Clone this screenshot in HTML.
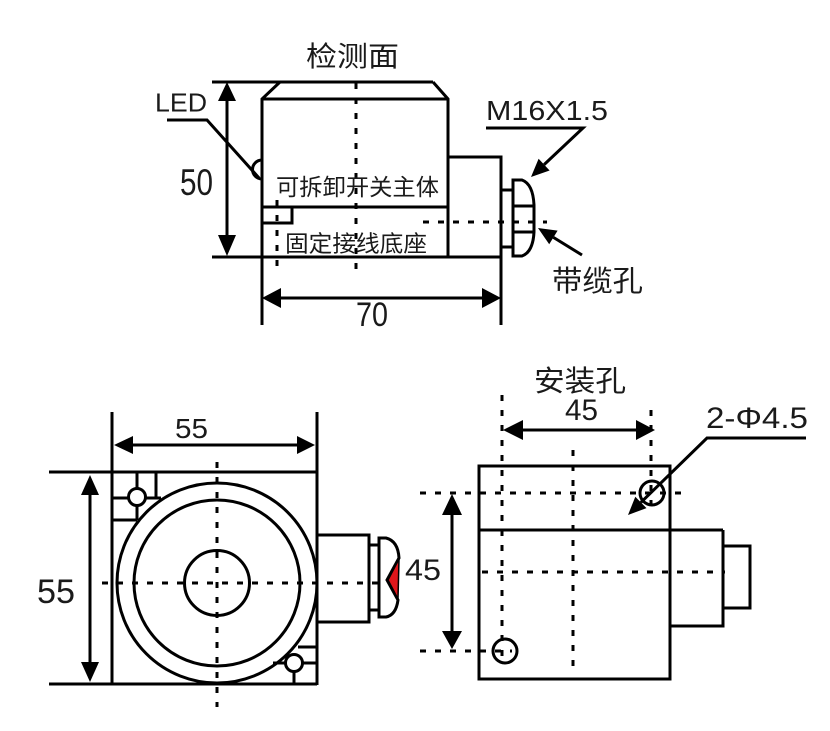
<!DOCTYPE html>
<html><head><meta charset="utf-8"><style>
html,body{margin:0;padding:0;background:#fff;}
svg{display:block;}
text{font-family:"Liberation Sans","Noto Sans CJK SC",sans-serif;fill:#1a1a1a;}
.c{font-family:"Noto Sans CJK SC","WenQuanYi Zen Hei",sans-serif;}
</style></head><body>
<svg width="830" height="731" viewBox="0 0 830 731" xmlns="http://www.w3.org/2000/svg">
<g fill="none" stroke="#000" stroke-width="3" stroke-linecap="butt">
<!-- TOP VIEW -->
<line x1="212" y1="82" x2="433" y2="82"/>
<polyline points="262,257 262,99 280,82"/>
<polyline points="433,82 448,99 448,257"/>
<line x1="262" y1="99" x2="448" y2="99"/>
<line x1="262" y1="207" x2="449" y2="207"/>
<rect x="262" y="207" width="30" height="16"/>
<line x1="212" y1="257" x2="501" y2="257"/>
<polyline points="449,157 501,157 501,257"/>
<line x1="262" y1="257" x2="262" y2="325"/>
<line x1="501" y1="257" x2="501" y2="325"/>
<!-- LED -->
<polyline points="167,120 207,120 259,178"/>
<path d="M262,160 A9.5,9.5 0 0 0 262,179"/>
<!-- gland top view -->
<path d="M513,180 L522,180 Q533,184 534,205 L534,232 Q533,252 522,256 L513,256 Z"/>
<line x1="513" y1="206" x2="534" y2="206"/>
<line x1="513" y1="232" x2="534" y2="232"/>
<line x1="501" y1="190" x2="513" y2="190"/>
<line x1="501" y1="247" x2="513" y2="247"/>
<!-- dim lines top -->
<line x1="227" y1="99" x2="227" y2="236"/>
<line x1="279" y1="298" x2="484" y2="298"/>
<!-- leaders -->
<polyline points="486,128 583,128 544.1,164.6"/>
<line x1="582" y1="255" x2="553.4" y2="237.4"/>

<!-- LEFT VIEW -->
<line x1="112" y1="412" x2="112" y2="685"/>
<line x1="317" y1="412" x2="317" y2="685"/>
<line x1="49" y1="472" x2="317" y2="472"/>
<line x1="49" y1="684" x2="317" y2="684"/>
<line x1="132" y1="445" x2="298" y2="445"/>
<line x1="90" y1="494" x2="90" y2="664"/>
<circle cx="217" cy="583" r="100"/>
<circle cx="217" cy="583" r="83"/>
<circle cx="217" cy="583" r="32.5"/>
<!-- corner details -->
<line x1="137" y1="472" x2="137" y2="520"/>
<line x1="156" y1="472" x2="156" y2="498"/>
<line x1="113" y1="498" x2="161" y2="498"/>
<line x1="113" y1="520" x2="137" y2="520"/>
<circle cx="137" cy="497" r="8.5" fill="#fff"/>
<line x1="298" y1="647" x2="317" y2="647"/>
<line x1="273" y1="663" x2="317" y2="663"/>
<line x1="294" y1="663" x2="294" y2="684"/>
<circle cx="294" cy="663" r="8.5" fill="#fff"/>
<!-- connector left view -->
<polyline points="317,535 369,535 369,622 317,622"/>
<line x1="369" y1="545" x2="379" y2="545"/>
<line x1="369" y1="610" x2="379" y2="610"/>
<path d="M379,538 L386,538 Q398,541 399,558 L387,580 L398,600 Q396,615 386,617 L379,617 Z" fill="#fff"/>

<!-- RIGHT VIEW -->
<rect x="479" y="466" width="191" height="213"/>
<line x1="479" y1="530" x2="723" y2="530"/>
<polyline points="670,626 723,626 723,530"/>
<rect x="723" y="546" width="27" height="62"/>
<line x1="522" y1="430" x2="638" y2="430"/>
<line x1="452" y1="514" x2="452" y2="632"/>
<polyline points="806,438 707,438 640.9,502.4"/>
</g>
<!-- red wedge -->
<polygon points="399,559 388,580 398,599" fill="#e0161b" stroke="#000" stroke-width="1.5"/>

<!-- dashed lines -->
<g fill="none" stroke="#000" stroke-width="3" stroke-dasharray="6 9">
<line x1="356" y1="83" x2="356" y2="278"/>
<line x1="277" y1="200" x2="277" y2="272"/>
<line x1="423" y1="222" x2="547" y2="222"/>
<line x1="102" y1="583" x2="378" y2="583"/>
<line x1="217" y1="462" x2="217" y2="707"/>
<line x1="502" y1="395" x2="502" y2="662"/>
<line x1="651" y1="410" x2="651" y2="512"/>
<line x1="573" y1="450" x2="573" y2="672"/>
<line x1="420" y1="493" x2="682" y2="493"/>
<line x1="482" y1="572" x2="725" y2="572"/>
<line x1="420" y1="651" x2="512" y2="651"/>
</g>
<g fill="none" stroke="#000" stroke-width="3">
<circle cx="652" cy="493" r="12"/>
<circle cx="505" cy="651" r="12"/>
</g>

<!-- arrowheads -->
<g fill="#000">
<polygon points="227,82 218,101 236,101"/>
<polygon points="227,256 218,235 236,235"/>
<polygon points="262,298 281,288 281,308"/>
<polygon points="501,298 482,288 482,308"/>
<polygon points="531,177 549.6,170.5 538.6,158.8"/>
<polygon points="538,228 557.6,230.6 549.2,244.2"/>
<polygon points="114,445 133,436 133,454"/>
<polygon points="315,445 297,436 297,454"/>
<polygon points="90,475 81,495 99,495"/>
<polygon points="90,682 81,662 99,662"/>
<polygon points="503,430 523,420 523,440"/>
<polygon points="655,430 636,420 636,440"/>
<polygon points="452,494 442,515 462,515"/>
<polygon points="452,649 442,631 462,631"/>
<polygon points="628,515 646.5,508.1 635.3,496.7"/>
</g>

<!-- texts -->
<text class="c" x="306" y="66" font-size="28" textLength="93" lengthAdjust="spacingAndGlyphs">检测面</text>
<text x="155" y="111.5" font-size="25.5" textLength="52" lengthAdjust="spacingAndGlyphs">LED</text>
<text x="180" y="195" font-size="37" textLength="33" lengthAdjust="spacingAndGlyphs">50</text>
<text class="c" x="276" y="195" font-size="23" textLength="163" lengthAdjust="spacingAndGlyphs">可拆卸开关主体</text>
<text class="c" x="285" y="251.5" font-size="23" textLength="142" lengthAdjust="spacingAndGlyphs">固定接线底座</text>
<text x="356" y="326" font-size="34" textLength="32" lengthAdjust="spacingAndGlyphs">70</text>
<text x="486" y="120" font-size="28" textLength="122" lengthAdjust="spacingAndGlyphs">M16X1.5</text>
<text class="c" x="552" y="291" font-size="29" textLength="91" lengthAdjust="spacingAndGlyphs">带缆孔</text>
<text class="c" x="534" y="391" font-size="29" textLength="92" lengthAdjust="spacingAndGlyphs">安装孔</text>
<text x="565" y="420" font-size="30" textLength="33" lengthAdjust="spacingAndGlyphs">45</text>
<text x="706" y="428" font-size="30" textLength="102" lengthAdjust="spacingAndGlyphs">2-Φ4.5</text>
<text x="175" y="438" font-size="28" textLength="33" lengthAdjust="spacingAndGlyphs">55</text>
<text x="37" y="603" font-size="34" textLength="38" lengthAdjust="spacingAndGlyphs">55</text>
<text x="405" y="580" font-size="30" textLength="36" lengthAdjust="spacingAndGlyphs">45</text>
</svg>
</body></html>
